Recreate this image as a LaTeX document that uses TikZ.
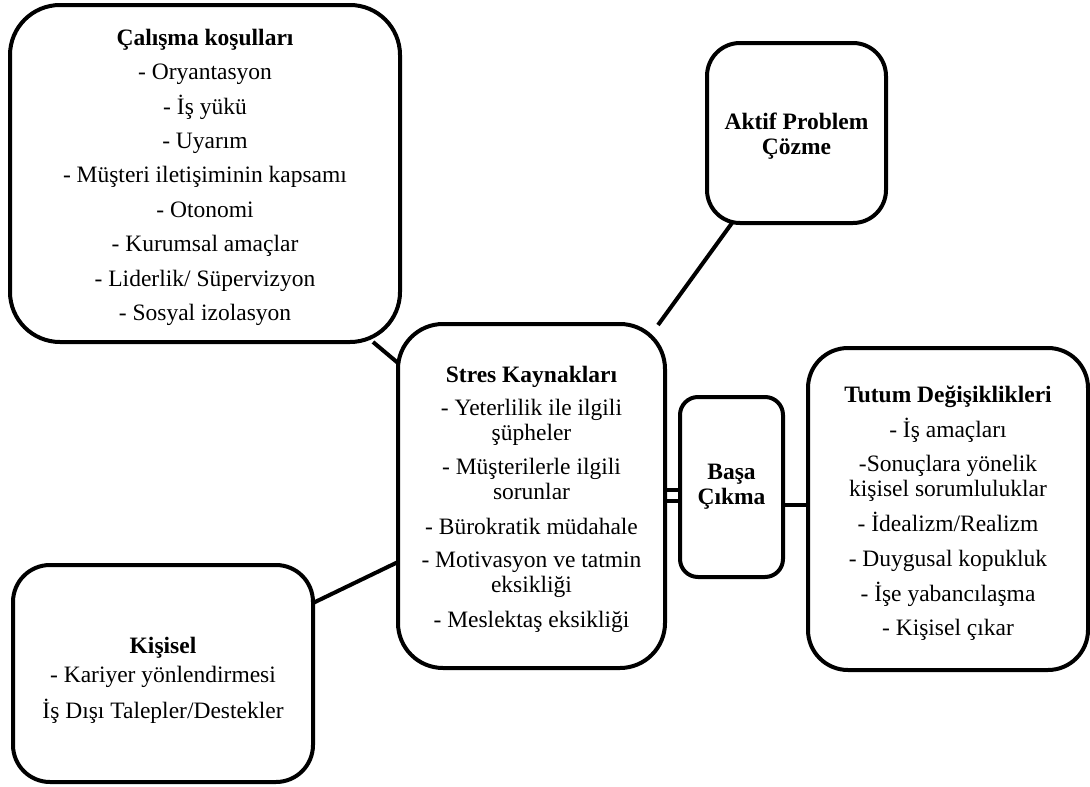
\documentclass[tikz,border=0pt]{standalone}
\usepackage{fontspec}
\setmainfont{Liberation Serif}
\usetikzlibrary{calc}
\begin{document}
\begin{tikzpicture}[x=1pt,y=-1pt,
  card/.style={draw, line width=4pt, rounded corners=#1, align=center,
    inner sep=0pt, outer sep=0pt, font=\fontsize{23.5}{25}\selectfont},
  card/.default=40pt,
  link/.style={line width=4pt}]
\useasboundingbox (0,0) rectangle (1090,787);

% boxes
\node[card=50pt, minimum width=390pt, minimum height=337pt] (cal) at (205,173.5)
  {\rule{0pt}{24pt}\textbf{Çalışma koşulları}\\[9.4pt]
   - Oryantasyon\\[9.4pt]
   - İş yükü\\[9.4pt]
   - Uyarım\\[9.4pt]
   - Müşteri iletişiminin kapsamı\\[9.4pt]
   - Otonomi\\[9.4pt]
   - Kurumsal amaçlar\\[9.4pt]
   - Liderlik/ Süpervizyon\\[9.4pt]
   - Sosyal izolasyon};

\node[card=45pt, minimum width=267pt, minimum height=344pt] (stres) at (531.5,496)
  {\rule{0pt}{24pt}\textbf{Stres Kaynakları}\\[8pt]
   - Yeterlilik ile ilgili\\ şüpheler\\[9pt]
   - Müşterilerle ilgili\\ sorunlar\\[10pt]
   - Bürokratik müdahale\\[8pt]
   - Motivasyon ve tatmin\\ eksikliği\\[10pt]
   - Meslektaş eksikliği};

\node[card=18pt, minimum width=103pt, minimum height=180pt] (basa) at (731.5,487)
  {\textbf{Başa}\\ \textbf{Çıkma}};

\node[card=40pt, minimum width=280pt, minimum height=322pt] (tutum) at (948,509)
  {\rule{0pt}{24pt}\textbf{Tutum Değişiklikleri}\\[10pt]
   - İş amaçları\\[9pt]
   -Sonuçlara yönelik\\ kişisel sorumluluklar\\[10pt]
   - İdealizm/Realizm\\[10pt]
   - Duygusal kopukluk\\[10pt]
   - İşe yabancılaşma\\[9pt]
   - Kişisel çıkar};

\node[card=33pt, minimum width=179pt, minimum height=180pt] (aktif) at (796.5,133)
  {\rule{0pt}{22pt}\textbf{Aktif Problem}\\ \textbf{Çözme}};

\node[card=37pt, minimum width=300pt, minimum height=217pt] (kis) at (163,673.5)
  {\rule{0pt}{29pt}\textbf{Kişisel}\\[4pt]
   - Kariyer yönlendirmesi\\[11pt]
   İş Dışı Talepler/Destekler};

% connectors
\draw[link] ($(cal.south east)+(-27,0)$) -- ($(stres.north west)+(0,39)$);
\draw[link] ($(aktif.south west)+(25,0)$) -- ($(stres.north east)+(-7,1)$);
\draw[link] ($(kis.north east)+(0,38)$) -- ($(stres.north west)+(0,238)$);
% paired lines between the stressor box and the coping box
\coordinate (pa) at ($(stres.east)+(0,-6.5)$);
\coordinate (pb) at ($(stres.east)+(0,4.5)$);
\draw[link] (pa) -- (pa -| basa.west);
\draw[link] (pb) -- (pb -| basa.west);
\coordinate (tl) at ($(tutum.west)+(0,-4)$);
\draw[link] (tl -| basa.east) -- (tl);
\end{tikzpicture}
\end{document}
